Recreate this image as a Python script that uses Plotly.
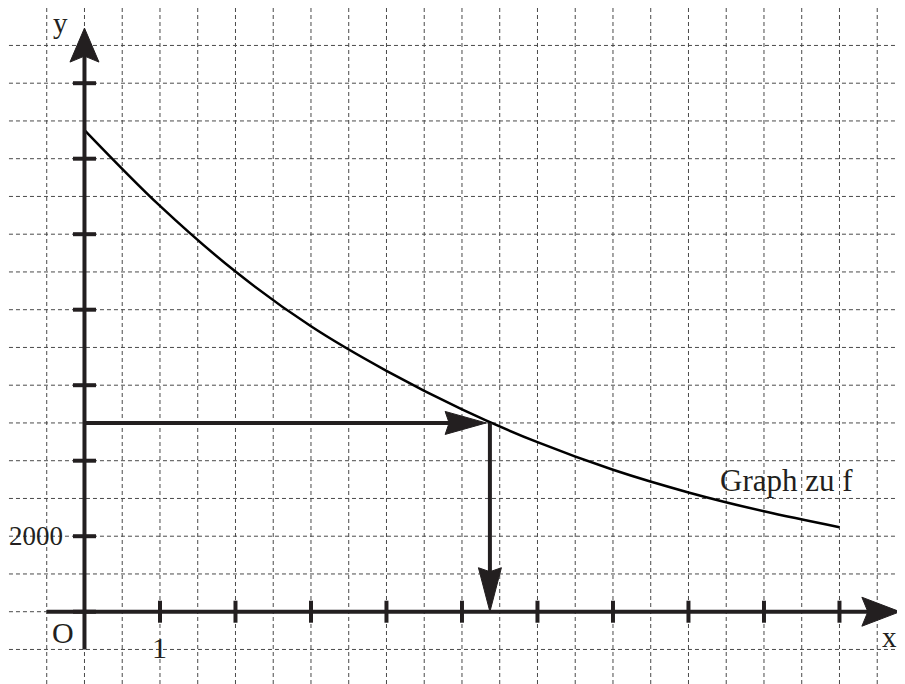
import plotly.graph_objects as go

# ---- data ----
x_vals = [0, 1, 2, 3, 4, 5, 6, 7, 8, 9, 10]
f_vals = [12760, 10750, 9010, 7560, 6380, 5360, 4490, 3760, 3160, 2660, 2240]
x_ticks = [1, 2, 3, 4, 5, 6, 7, 8, 9, 10]
y_ticks = [0, 2000, 4000, 6000, 8000, 10000, 12000, 14000]
y_tick_label = "2000"
read_y = 5000
read_x = 5.37
curve_label = "Graph zu f"

# ---- geometry (data units) ----
# the page body adds an 8px offset, so the figure covers page pixels 8..905 / 8..684
X_MIN, X_MAX = -1.013, 10.868
Y_MIN, Y_MAX = -1915, 15992
PX = 1 / 75.5          # x units per pixel
PY = 2000 / 75.5       # y units per pixel

INK = "#231f20"
GRID = "#4a4a4a"

fig = go.Figure()

shapes = []
# grid: horizontal dashed lines every 1000
gy = -1000
while gy <= 15000:
    shapes.append(dict(type="line", xref="x", yref="y", x0=-1.0, x1=X_MAX, y0=gy, y1=gy,
                       line=dict(color=GRID, width=1, dash="4px,3px"), layer="below"))
    gy += 1000
# grid: vertical dashed lines every 0.5
gx = -0.5
while gx <= 10.51:
    shapes.append(dict(type="line", xref="x", yref="y", x0=gx, x1=gx, y0=Y_MIN, y1=Y_MAX,
                       line=dict(color=GRID, width=1, dash="4px,3px"), layer="below"))
    gx += 0.5

# axes lines
ax_w = 4
shapes.append(dict(type="line", xref="x", yref="y", x0=-0.5, x1=10.5, y0=0, y1=0,
                   line=dict(color=INK, width=ax_w)))
shapes.append(dict(type="line", xref="x", yref="y", x0=0, x1=0, y0=-1000, y1=15000,
                   line=dict(color=INK, width=ax_w)))
# ticks
for t in x_ticks:
    shapes.append(dict(type="line", xref="x", yref="y", x0=t, x1=t, y0=-11 * PY, y1=11 * PY,
                       line=dict(color=INK, width=ax_w)))
for t in y_ticks:
    shapes.append(dict(type="line", xref="x", yref="y", x0=-11.5 * PX, x1=11.5 * PX, y0=t, y1=t,
                       line=dict(color=INK, width=ax_w)))

def tri_path(pts):
    return "M " + " L ".join(f"{a},{b}" for a, b in pts) + " Z"

# y axis arrowhead
tip_y = 15460
shapes.append(dict(type="path", xref="x", yref="y",
                   path=tri_path([(0, tip_y), (14.5 * PX, tip_y - 34 * PY), (0, tip_y - 28 * PY),
                                  (-14.5 * PX, tip_y - 34 * PY)]),
                   fillcolor=INK, line=dict(color=INK, width=1)))
# x axis arrowhead
tip_x = 10.80
shapes.append(dict(type="path", xref="x", yref="y",
                   path=tri_path([(tip_x, 0), (tip_x - 38 * PX, 14.5 * PY), (tip_x - 32 * PX, 0),
                                  (tip_x - 38 * PX, -14.5 * PY)]),
                   fillcolor=INK, line=dict(color=INK, width=1)))

# reading arrows
h_tip = read_x - 0.05
shapes.append(dict(type="line", xref="x", yref="y", x0=0, x1=h_tip - 30 * PX, y0=read_y, y1=read_y,
                   line=dict(color=INK, width=ax_w)))
shapes.append(dict(type="path", xref="x", yref="y",
                   path=tri_path([(h_tip, read_y), (h_tip - 41 * PX, read_y + 11.5 * PY),
                                  (h_tip - 37 * PX, read_y), (h_tip - 41 * PX, read_y - 11.5 * PY)]),
                   fillcolor=INK, line=dict(color=INK, width=1)))
shapes.append(dict(type="line", xref="x", yref="y", x0=read_x, x1=read_x, y0=read_y, y1=35 * PY,
                   line=dict(color=INK, width=ax_w)))
shapes.append(dict(type="path", xref="x", yref="y",
                   path=tri_path([(read_x, 0), (read_x - 11.5 * PX, 44 * PY),
                                  (read_x, 40 * PY), (read_x + 11.5 * PX, 44 * PY)]),
                   fillcolor=INK, line=dict(color=INK, width=1)))

# curve
fig.add_trace(go.Scatter(x=x_vals, y=f_vals, mode="lines", line=dict(color="black", width=2.5, shape="spline"),
                         hoverinfo="skip", showlegend=False))

FONT = dict(family="Liberation Serif, Times New Roman, serif", size=28, color=INK)
ann = []
def label(text, x, y, xanchor="center", yanchor="middle", size=28):
    f = dict(FONT); f["size"] = size
    ann.append(dict(text=text, x=x, y=y, xref="x", yref="y", showarrow=False,
                    xanchor=xanchor, yanchor=yanchor, font=f, borderpad=0))

label("y", -24 * PX, 15600, size=29)
label(y_tick_label, -20 * PX, 2000, xanchor="right", size=27)
label("O", -21 * PX, -21 * PY, size=30)
label("1", 1, -36 * PY, size=30)
label("x", 10.665, -25 * PY, size=29)
label(curve_label, 9.30, 3480, size=31)

fig.update_layout(
    width=897, height=676,
    margin=dict(l=0, r=0, t=0, b=0),
    paper_bgcolor="white", plot_bgcolor="white",
    xaxis=dict(range=[X_MIN, X_MAX], visible=False, fixedrange=True),
    yaxis=dict(range=[Y_MIN, Y_MAX], visible=False, fixedrange=True),
    shapes=shapes, annotations=ann, showlegend=False,
)

fig.write_html("out.html")
